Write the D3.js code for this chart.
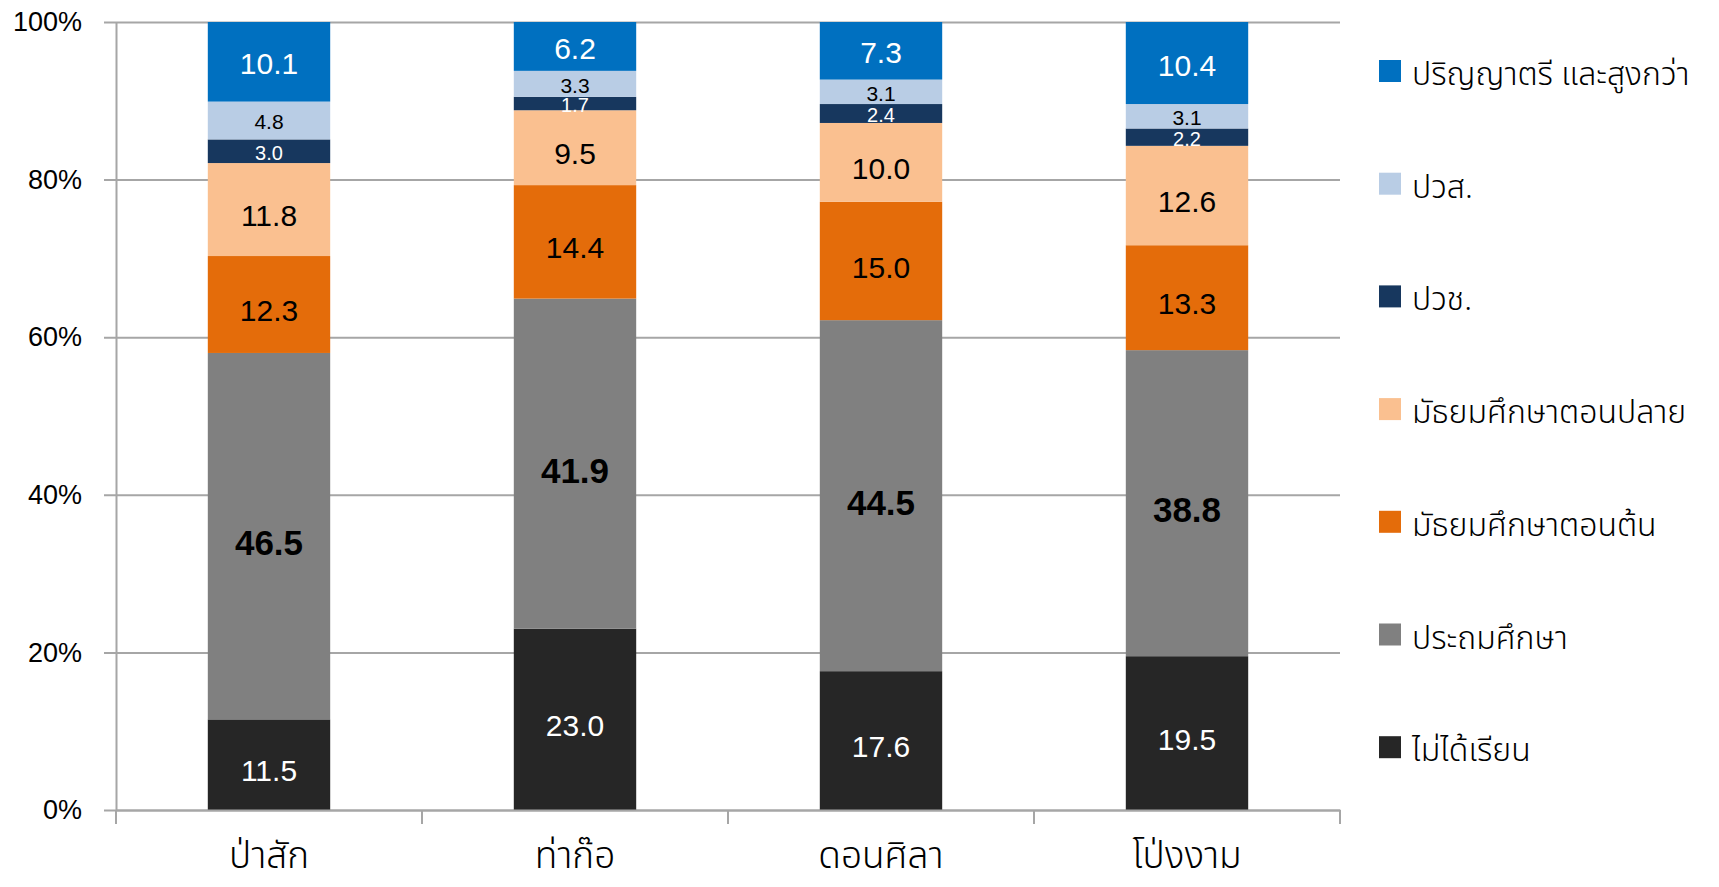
<!DOCTYPE html>
<html>
<head>
<meta charset="utf-8">
<script src="https://cdn.jsdelivr.net/npm/d3@7"></script>
<style>
  body { margin: 0; background: #fff; }
  svg text { font-family: "Liberation Sans", Arial, sans-serif; }
  .thai { font-family: "Noto Sans Thai", "Liberation Sans", "DejaVu Sans", sans-serif; }
</style>
</head>
<body>
<script>
// categories (districts)
var districts = ['ป่าสัก', 'ท่าก๊อ', 'ดอนศิลา', 'โป่งงาม'];

// education levels, bottom to top
var levels = ['ไม่ได้เรียน', 'ประถมศึกษา', 'มัธยมศึกษาตอนต้น', 'มัธยมศึกษาตอนปลาย', 'ปวช.', 'ปวส.', 'ปริญญาตรี และสูงกว่า'];

// values per level, one entry per district
var noSchool   = [11.5, 23.0, 17.6, 19.5];
var primary    = [46.5, 41.9, 44.5, 38.8];
var lowerSec   = [12.3, 14.4, 15.0, 13.3];
var upperSec   = [11.8, 9.5, 10.0, 12.6];
var vocCert    = [3.0, 1.7, 2.4, 2.2];
var highVoc    = [4.8, 3.3, 3.1, 3.1];
var bachelor   = [10.1, 6.2, 7.3, 10.4];

var yTicks = [0, 20, 40, 60, 80, 100];

var colors = ['#262626', '#808080', '#E46C0A', '#FAC090', '#17375E', '#B9CDE5', '#0070C0'];
var labelColors = ['#fff', '#000', '#000', '#000', '#fff', '#000', '#fff'];
var labelSizes = [30, 35, 30, 30, 20, 21, 30];

var seriesValues = [noSchool, primary, lowerSec, upperSec, vocCert, highVoc, bachelor];

// Chart basic vars
var margin = {left: 116, top: 22, right: 379, bottom: 77},
    width = 1719,
    height = 887;

// build rows for d3.stack, normalised to 100%
var rows = districts.map(function(d, i) {
    var row = {district: d}, total = 0;
    levels.forEach(function(l, j) { total += seriesValues[j][i]; });
    levels.forEach(function(l, j) {
        row[l] = seriesValues[j][i] / total * 100;
        row[l + '_raw'] = seriesValues[j][i];
    });
    return row;
});

var stacked = d3.stack().keys(levels)(rows);

var x = d3.scaleBand()
        .domain(districts)
        .range([margin.left, width - margin.right])
        .paddingInner(0.6)
        .paddingOuter(0.3),
    xb = d3.scaleBand()
        .domain(districts)
        .range([margin.left, width - margin.right]),
    y = d3.scaleLinear()
        .domain([0, 100])
        .range([height - margin.bottom, margin.top]);

var svg = d3.select('body').append('svg')
    .attr('width', width)
    .attr('height', height);

// gridlines + y axis
var yAxis = d3.axisLeft(y)
    .tickValues(yTicks)
    .tickSize(-(width - margin.right - margin.left))
    .tickSizeOuter(0)
    .tickPadding(34)
    .tickFormat(function(d) { return d + '%'; });

var gy = svg.append('g')
    .attr('transform', 'translate(' + margin.left + ',0)')
    .call(yAxis);
gy.select('.domain').attr('stroke', '#A6A6A6').attr('stroke-width', 2);
gy.selectAll('.tick line')
    .attr('x1', -12)
    .attr('stroke', '#A6A6A6')
    .attr('stroke-width', 2);
gy.selectAll('.tick text')
    .attr('font-size', 27)
    .attr('fill', '#000')
    .attr('font-family', '"Liberation Sans", Arial, sans-serif');

// bars
var layer = svg.selectAll('.layer')
        .data(stacked)
    .enter().append('g')
        .attr('class', 'layer')
        .attr('fill', function(d, i) { return colors[i]; });

layer.selectAll('rect')
        .data(function(d) { return d; })
    .enter().append('rect')
    .attr('x', function(d) { return x(d.data.district); })
    .attr('y', function(d) { return y(d[1]); })
    .attr('width', x.bandwidth())
    .attr('height', function(d) { return y(d[0]) - y(d[1]); });

// value labels
layer.each(function(s, i) {
    d3.select(this).selectAll('text')
            .data(s)
        .enter().append('text')
        .attr('x', function(d) { return x(d.data.district) + x.bandwidth() / 2; })
        .attr('y', function(d) { return (y(d[0]) + y(d[1])) / 2; })
        .attr('dy', i >= 4 ? '0.42em' : '0.55em')
        .attr('text-anchor', 'middle')
        .attr('font-size', labelSizes[i])
        .attr('font-weight', i === 1 ? 'bold' : 'normal')
        .attr('fill', labelColors[i])
        .text(function(d) { return d.data[s.key + '_raw'].toFixed(1); });
});

// x axis
var xAxis = d3.axisBottom(xb).tickSize(0).tickSizeOuter(0).tickFormat('');
var gx = svg.append('g')
    .attr('transform', 'translate(0,' + y(0) + ')')
    .call(xAxis);
gx.select('.domain').attr('stroke', '#A6A6A6').attr('stroke-width', 2);
gx.selectAll('.tick').remove();

// category separators
var seps = districts.map(function(d) { return xb(d); }).concat([width - margin.right]);
gx.selectAll('.sep')
        .data(seps)
    .enter().append('line')
    .attr('x1', function(d) { return d; })
    .attr('x2', function(d) { return d; })
    .attr('y1', 0)
    .attr('y2', 14)
    .attr('stroke', '#A6A6A6')
    .attr('stroke-width', 2);

gx.selectAll('.cat')
        .data(districts)
    .enter().append('text')
    .attr('class', 'thai')
    .attr('x', function(d) { return xb(d) + xb.bandwidth() / 2; })
    .attr('y', 58)
    .attr('text-anchor', 'middle')
    .attr('font-size', 37)
    .attr('font-weight', 300)
    .attr('fill', '#000')
    .text(function(d) { return d; });

// legend, top entry first
var legendOrder = levels.slice().reverse();
var legend = svg.append('g').attr('transform', 'translate(1379,71)');
var item = legend.selectAll('.item')
        .data(legendOrder)
    .enter().append('g')
        .attr('transform', function(d, i) { return 'translate(0,' + (i * 112.7) + ')'; });
item.append('rect')
    .attr('x', 0)
    .attr('y', -11)
    .attr('width', 22)
    .attr('height', 22)
    .attr('fill', function(d) { return colors[levels.indexOf(d)]; });
item.append('text')
    .attr('class', 'thai')
    .attr('x', 33)
    .attr('y', 14)
    .attr('font-size', 32)
    .attr('font-weight', 300)
    .attr('fill', '#000')
    .text(function(d) { return d; });
</script>
</body>
</html>
